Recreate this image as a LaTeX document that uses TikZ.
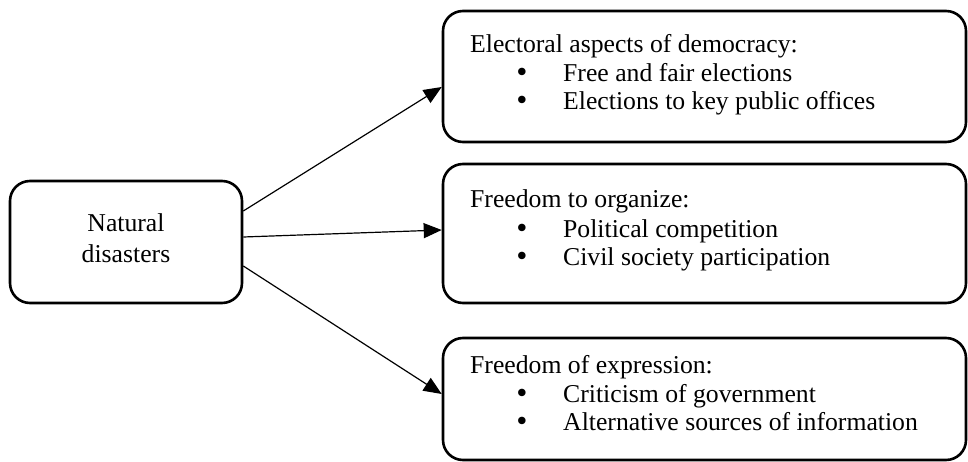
\documentclass[tikz,border=0pt]{standalone}
\usepackage{fontspec}
\setmainfont{Liberation Serif}
\newfontfamily\bulfont{DejaVu Sans}
\usetikzlibrary{arrows.meta}
\begin{document}
\begin{tikzpicture}[x=1pt,y=-1pt,
  box/.style={draw, line width=2.6pt, rounded corners=20pt, inner sep=0pt},
  arr/.style={line width=1.2pt, -{Triangle[length=18pt,width=15pt]}},
  txt/.style={anchor=base west, inner sep=0pt, font=\fontsize{25.7}{28}\selectfont},
  bul/.style={anchor=base, inner sep=0pt, font=\bulfont\fontsize{25.7}{28}\selectfont},
  ctr/.style={anchor=base, inner sep=0pt, font=\fontsize{25.7}{28}\selectfont}]
\useasboundingbox (0,0) rectangle (968,462);
% boxes
\node[box, minimum width=232pt, minimum height=122pt] (nd) at (126,242) {};
\node[box, minimum width=523pt, minimum height=131pt] (b1) at (704.5,76.5) {};
\node[box, minimum width=523pt, minimum height=139pt] (b2) at (704.5,233.5) {};
\node[box, minimum width=523pt, minimum height=122pt] (b3) at (704.5,399) {};
% left text
\node[ctr] (n1) at (126,232) {Natural};
\node[ctr] (n2) at (126,262) {disasters};
% top box text
\node[txt] (t1) at (470,53) {Electoral aspects of democracy:};
\node[bul] (t1b1) at (522,82) {•};
\node[txt] (t1i1) at (563,82) {Free and fair elections};
\node[bul] (t1b2) at (522,110) {•};
\node[txt] (t1i2) at (563,110) {Elections to key public offices};
% middle box text
\node[txt] (t2) at (470,208) {Freedom to organize:};
\node[bul] (t2b1) at (522,237) {•};
\node[txt] (t2i1) at (563,237) {Political competition};
\node[bul] (t2b2) at (522,265) {•};
\node[txt] (t2i2) at (563,265) {Civil society participation};
% bottom box text
\node[txt] (t3) at (470,373) {Freedom of expression:};
\node[bul] (t3b1) at (522,402) {•};
\node[txt] (t3i1) at (563,402) {Criticism of government};
\node[bul] (t3b2) at (522,430) {•};
\node[txt] (t3i2) at (563,430) {Alternative sources of information};
% arrows
\draw[arr] (nd.east |- 0,211) -- (b1.west |- 0,87);
\draw[arr] (nd.east |- 0,237) -- (b2.west |- 0,230);
\draw[arr] (nd.east |- 0,266) -- (b3.west |- 0,394);
\end{tikzpicture}
\end{document}
